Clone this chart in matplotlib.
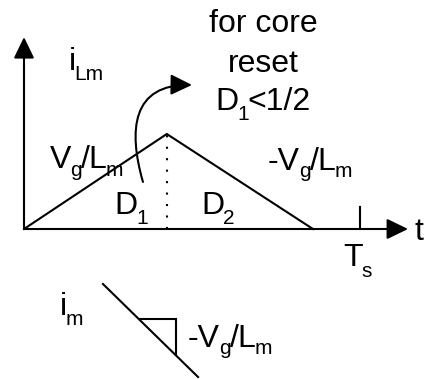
import numpy as np
import matplotlib
matplotlib.use("Agg")
import matplotlib.pyplot as plt
from matplotlib.patches import FancyArrowPatch
from matplotlib.path import Path
from matplotlib.transforms import offset_copy

plt.rcParams['font.family'] = ['Liberation Sans', 'DejaVu Sans']

# Magnetizing current over one switching period (Ts = 1)
D1 = 0.425
D2 = 0.435
Ts = 1.0
i_peak = 1.0
t_wave = [0, D1, D1 + D2]
i_wave = [0, i_peak, 0]

# extents of the drawn axes
t_end = 1.143
i_top = 2.02
tick_h = 0.232

# slope sketch below the plot
slope_t = [0.235, 0.518]
slope_i = [-0.579, -1.558]

LW = 1.5
FS = 23
SUB = 15

fig = plt.figure(figsize=(4.26, 3.79), dpi=100)
ax = fig.add_axes([0, 0, 1, 1])
ax.set_xlim(-24 / 336, 402 / 336)
ax.set_ylim(-150 / 95, 229 / 95)
ax.axis('off')
renderer = fig.canvas.get_renderer()


def label(x, y, pieces, drop=10, gap=-1, center=False):
    """Draw text built from (string, is_subscript) pieces, left-aligned on
    the baseline at (x, y); subscripts are smaller and dropped by `drop` px."""
    texts, offs = [], []
    cur = 0.0
    for s, sub in pieces:
        dy = -drop if sub else 0
        tr = offset_copy(ax.transData, fig, x=cur, y=dy, units='dots')
        t = ax.text(x, y, s, fontsize=SUB if sub else FS, va='baseline',
                    ha='left', transform=tr)
        texts.append((t, dy))
        offs.append(cur)
        cur += t.get_window_extent(renderer).width + gap
    if center:
        shift = (cur - gap) / 2
        for (t, dy), o in zip(texts, offs):
            t.set_transform(offset_copy(ax.transData, fig, x=o - shift, y=dy,
                                        units='dots'))


head = dict(arrowstyle='-|>,head_length=13,head_width=6.3', mutation_scale=1,
            color='black', lw=LW, shrinkA=0, shrinkB=0)
ax.add_patch(FancyArrowPatch((0, 0), (t_end, 0), **head))
ax.add_patch(FancyArrowPatch((0, 0), (0, i_top), **head))

# waveform
ax.plot(t_wave, i_wave, color='black', lw=LW, solid_joinstyle='miter')
ax.plot([D1, D1], [0, i_peak], color='black', lw=LW, linestyle=(0, (1, 4.5)))
ax.plot([Ts, Ts], [0, tick_h], color='black', lw=LW)

# curved arrow toward the reset note
verts = [(0.354, 0.495), (0.310, 1.042), (0.321, 1.526), (0.5, 1.516)]
codes = [Path.MOVETO, Path.CURVE4, Path.CURVE4, Path.CURVE4]
ax.add_patch(FancyArrowPatch(path=Path(verts, codes), **head))

# labels
ax.text(0.711, 2.074, 'for core', fontsize=FS, ha='center', va='baseline')
ax.text(0.711, 1.653, 'reset', fontsize=FS, ha='center', va='baseline')
label(0.711, 1.253, [('D', 0), ('1', 1), ('<1/2', 0)], center=True)
label(0.134, 1.674, [('i', 0), ('Lm', 1)], gap=-1.5)
label(0.077, 0.642, [('V', 0), ('g', 1), ('/', 0), ('L', 0), ('m', 1)], drop=8)
label(0.726, 0.621, [('-V', 0), ('g', 1), ('/', 0), ('L', 0), ('m', 1)], drop=7)
label(0.268, 0.158, [('D', 0), ('1', 1)])
label(0.527, 0.158, [('D', 0), ('2', 1)])
label(0.949, -0.389, [('T', 0), ('s', 1)], drop=11)
ax.text(1.161, -0.116, 't', fontsize=FS, va='baseline')

# slope sketch
ax.plot(slope_t, slope_i, color='black', lw=LW)
tri_t = [0.345, 0.452, 0.452]
tri_i = [-0.947, -0.947, -1.326]
ax.plot(tri_t, tri_i, color='black', lw=LW, solid_joinstyle='miter')
label(0.107, -0.905, [('i', 0), ('m', 1)], gap=-1.5)
label(0.488, -1.242, [('-V', 0), ('g', 1), ('/', 0), ('L', 0), ('m', 1)], drop=7)

fig.savefig('out.png', dpi=100)
